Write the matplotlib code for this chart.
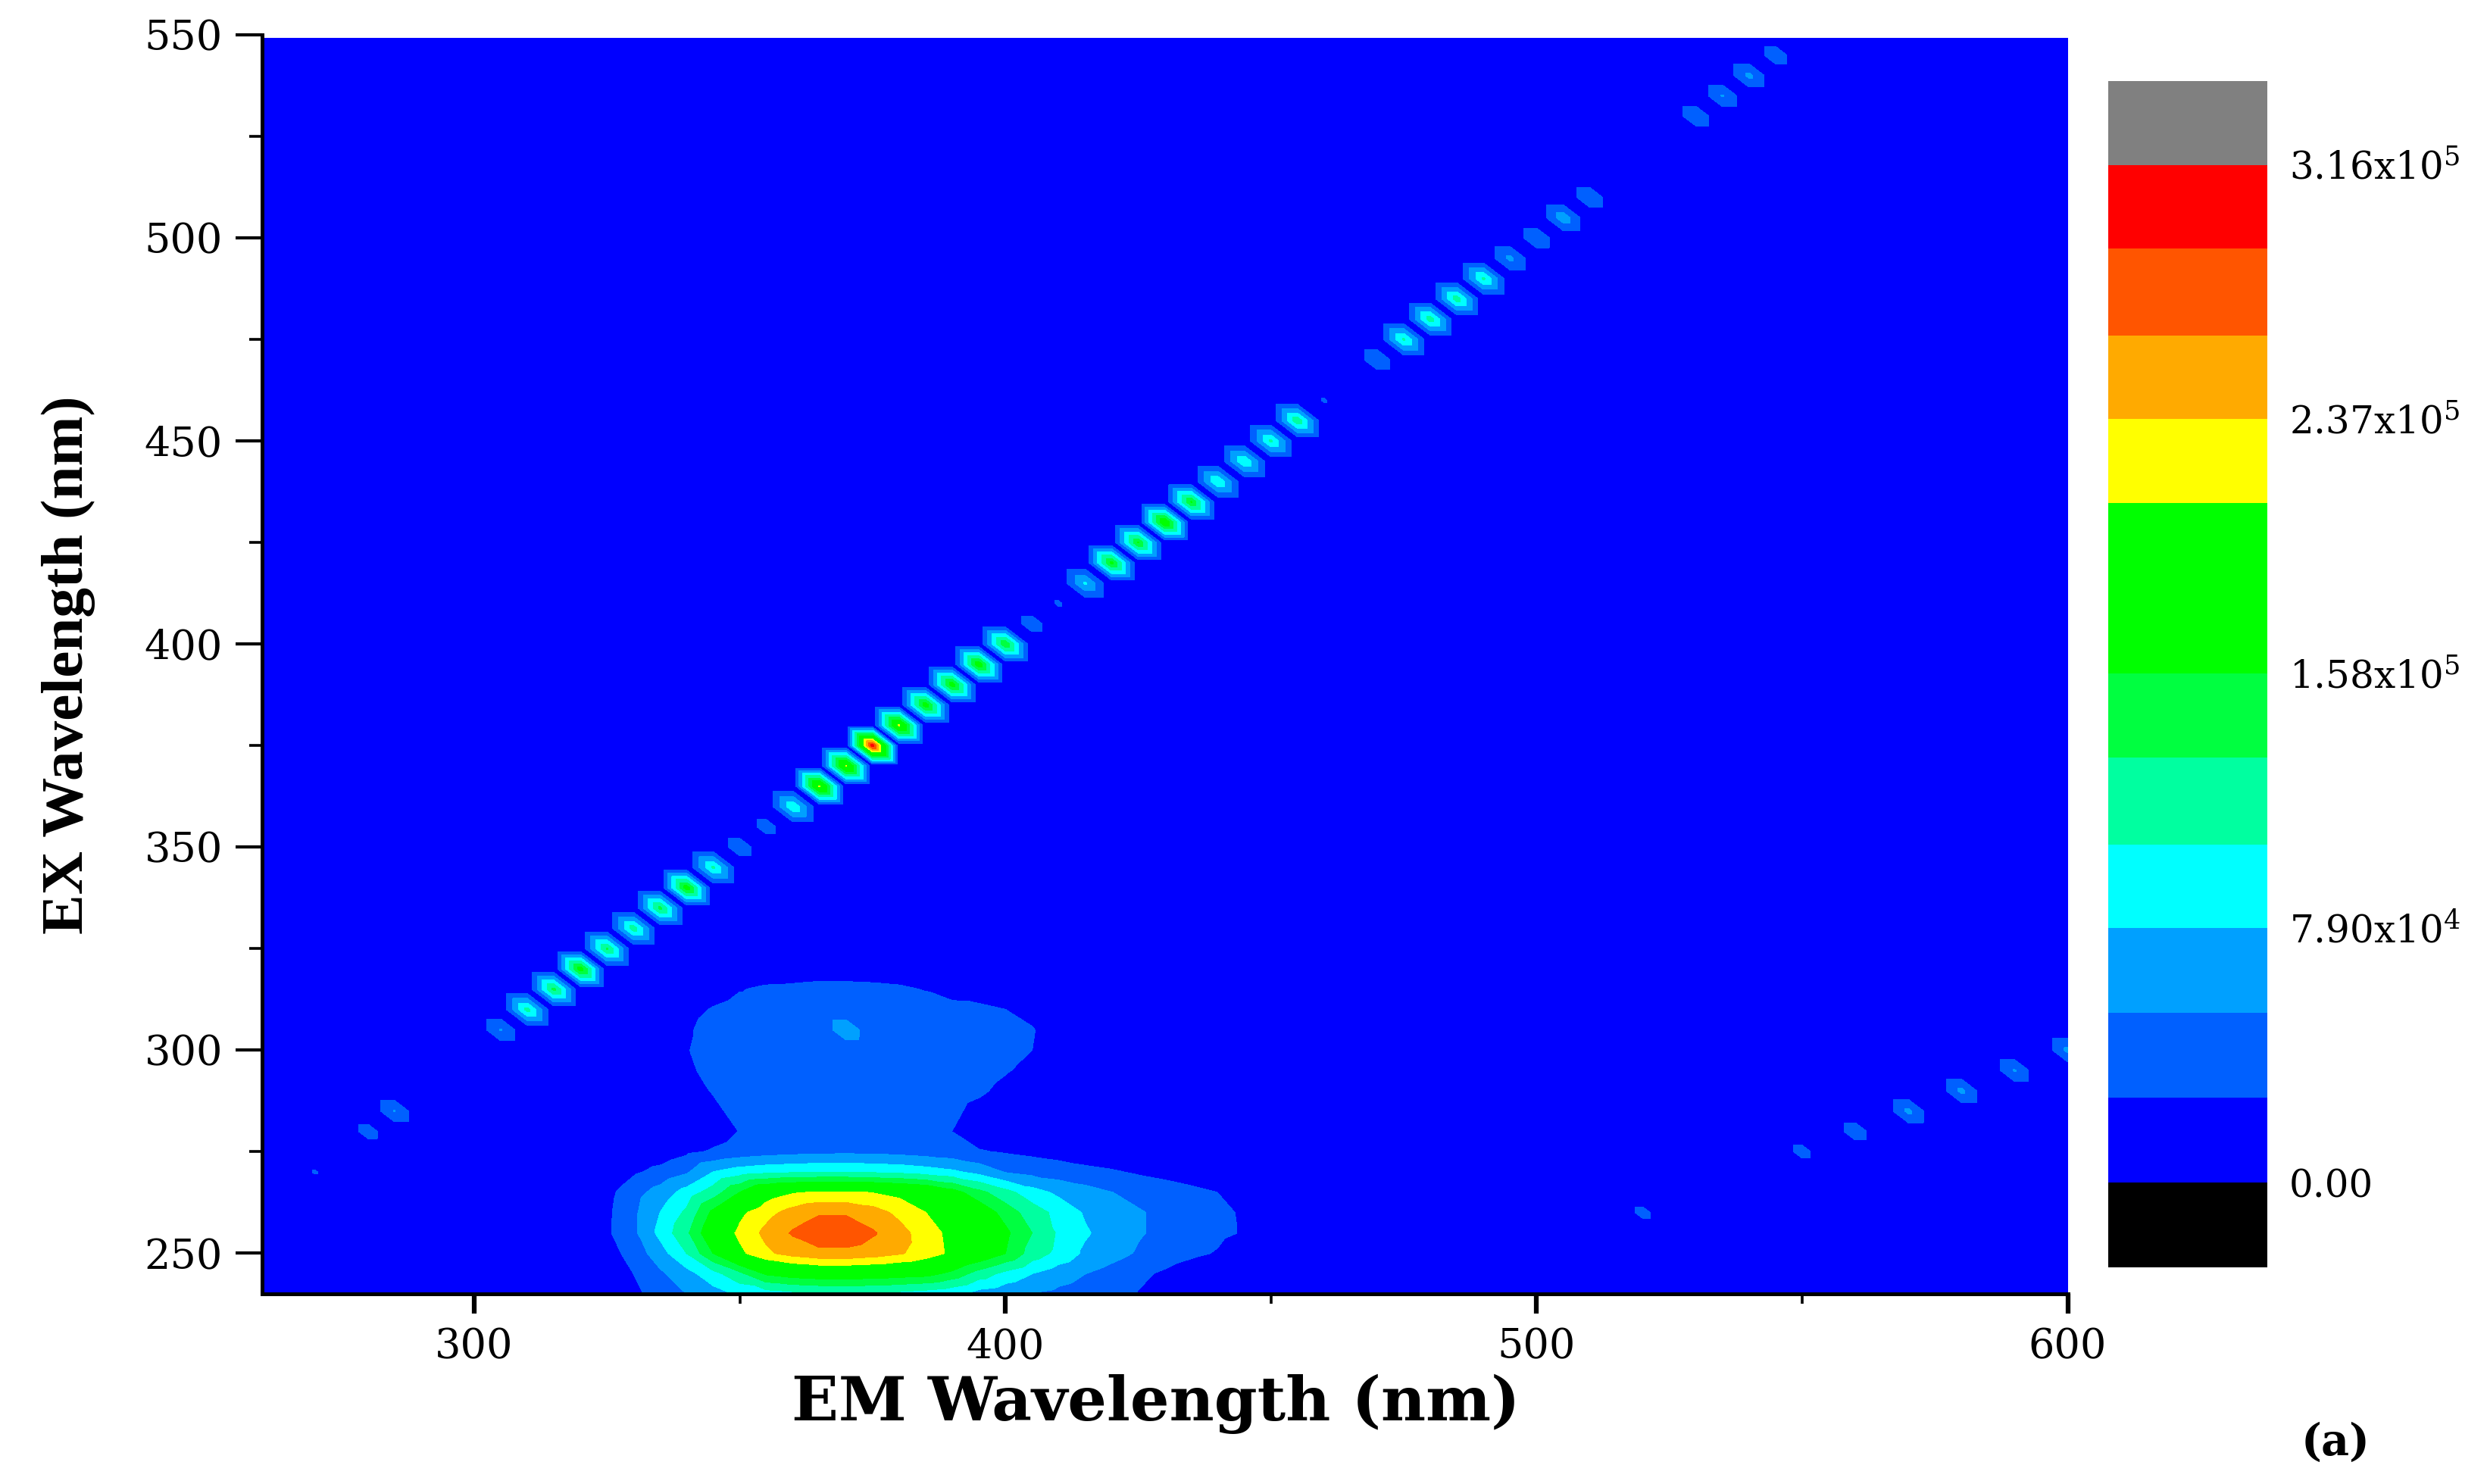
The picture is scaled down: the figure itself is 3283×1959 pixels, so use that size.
import matplotlib
matplotlib.use("Agg")
import matplotlib.pyplot as plt
import matplotlib.tri as mtri
import numpy as np

plt.rcParams['font.family'] = ['DejaVu Serif']
plt.rcParams['mathtext.fontset'] = 'dejavuserif'

# all intensities in units of 1e4
band_edges = [-2.63, 0, 2.63, 5.27, 7.90, 10.5, 13.2, 15.8, 18.4, 21.1, 23.7, 26.3, 29.0, 31.6, 34.2]
band_colors = ['#000000', '#0000ff', '#0060ff', '#00a0ff', '#00ffff', '#00ffa0', '#00ff40',
               '#00ff00', '#00ff00', '#ffff00', '#ffaa00', '#ff5500', '#ff0000', '#808080']
bar_ticks = [0, 7.90, 15.8, 23.7, 31.6]
bar_labels = ['0.00', '7.90x10$^{4}$', '1.58x10$^{5}$', '2.37x10$^{5}$', '3.16x10$^{5}$']

# measurement grid, 5 nm steps
em = np.arange(260, 605, 5)
ex = np.arange(240, 555, 5)

# scatter line, EX = EM
line1_nm = [270, 280, 285, 305, 310, 315, 320, 325, 330, 335, 340, 345, 350, 355, 360,
            365, 370, 375, 380, 385, 390, 395, 400, 405, 410, 415, 420, 425, 430, 435,
            440, 445, 450, 455, 460, 470, 475, 480, 485, 490, 495, 500, 505, 510,
            530, 535, 540, 545]
line1_val = [2.9, 4.0, 5.4, 5.5, 11.5, 14, 17.5, 13.5, 12, 14, 17.5, 11, 4.5, 4.0, 10.3,
             21.5, 21.3, 30.5, 21.5, 17.5, 17.5, 18, 15.5, 4.2, 3.0, 8.3, 16.5, 16, 19, 16,
             10.5, 10.5, 11, 12.5, 2.9, 5, 11, 12, 12, 11, 6, 5, 7, 5,
             5, 5.5, 6, 4.5]

# second order line, EX = EM / 2
line2_em = [520, 550, 560, 570, 580, 590, 600]
line2_ex = [260, 275, 280, 285, 290, 295, 300]
line2_val = [3.6, 3.8, 4.5, 6, 6, 5.5, 6]

# main peak, rows are EX 240..320, columns EM 320..450
blob_em = np.arange(320, 455, 5)
blob_ex = np.arange(240, 325, 5)
blob = [
    [0, 0, 1.9, 3.8, 5.27, 6.8, 8.3, 9, 9.6, 9.9, 10, 9.9, 9.6, 9, 8.2, 6.7, 6, 5.1, 4.6, 4, 3.3, 2.5, 1.5, .5, 0, 0, 0],
    [0, .6, 2.63, 4.8, 6.9, 9.5, 12.5, 16.2, 17.3, 17.8, 17.8, 17.6, 17.2, 16.8, 15, 12, 9.7, 7.9, 6.4, 5.3, 4.3, 3.2, 2.2, 1, 0, 0, 0],
    [0, 1.4, 3.7, 6.7, 10.5, 15.8, 20.4, 23.2, 24.7, 25.6, 25.6, 25, 24, 22.5, 20.5, 18.4, 15.8, 12, 9.7, 7.4, 6.2, 5, 4.1, 3.2, 2.4, 1, 0],
    [0, 2.2, 4.7, 8.6, 12.6, 18.4, 21.7, 24.4, 26.6, 28, 28, 26.6, 24.7, 22.3, 20.3, 18.8, 16.4, 13.2, 10.1, 8.2, 6.8, 5.5, 4.7, 4, 3.2, 2.4, 0],
    [0, 2.1, 4.7, 7.9, 11, 16.5, 20.4, 22.8, 24.7, 26, 26, 24.9, 23, 21.1, 19.9, 17.9, 14.7, 11.8, 9.7, 7.6, 6.5, 5.5, 4.7, 3.9, 3.2, 2.3, 0],
    [0, 1.8, 4.2, 6.3, 8.9, 11.8, 15.8, 19.5, 20.8, 21.3, 21.3, 21, 20.3, 19.3, 17, 14, 11.4, 9, 7.3, 6.3, 5.3, 4.5, 3.9, 3.3, 2.6, 1.2, 0],
    [0, 0, 2.2, 3.4, 4.9, 7.9, 9.2, 9.8, 10.1, 10.3, 10.3, 10.1, 9.8, 9.2, 8.4, 7, 5.1, 4.4, 3.9, 3.3, 2.9, 2.3, 1.8, 1.2, .6, 0, 0],
    [0, 0, .5, 1, 2.1, 2.9, 3.6, 4.1, 4.4, 4.6, 4.7, 4.6, 4.4, 4, 3.6, 2.8, 2.4, 2, 1.6, 1.2, .8, .4, 0, 0, 0, 0, 0],
    [0, 0, 0, 0, .4, 1.5, 2.7, 3.2, 3.4, 3.5, 3.5, 3.5, 3.4, 3.2, 2.6, 1.4, .8, .5, .2, 0, 0, 0, 0, 0, 0, 0, 0],
    [0, 0, 0, 0, .8, 2, 3.5, 3.6, 3.6, 3.6, 3.6, 3.6, 3.6, 3.5, 3.1, 1.9, 1, .5, 0, 0, 0, 0, 0, 0, 0, 0, 0],
    [0, 0, 0, .3, 1.5, 2.8, 3.6, 3.6, 3.6, 3.6, 3.6, 3.6, 3.6, 3.6, 3.6, 3, 2, 1, .3, 0, 0, 0, 0, 0, 0, 0, 0],
    [0, 0, 0, .6, 2.2, 3.3, 3.6, 3.6, 3.6, 3.6, 3.6, 3.6, 3.6, 3.6, 3.6, 3.6, 2.8, 2, .8, 0, 0, 0, 0, 0, 0, 0, 0],
    [0, 0, 0, .8, 2.5, 3.5, 3.6, 3.6, 3.6, 3.6, 3.6, 3.6, 3.6, 3.6, 3.6, 3.6, 3.4, 2.63, 1.2, .2, 0, 0, 0, 0, 0, 0, 0],
    [0, 0, 0, .6, 2.3, 3.5, 3.6, 3.6, 3.6, 3.7, 6.8, 3.7, 3.6, 3.6, 3.6, 3.6, 3.4, 2.8, 1.2, .2, 0, 0, 0, 0, 0, 0, 0],
    [0, 0, 0, .2, 1.9, 2.8, 3.4, 3.5, 3.6, 3.6, 3.6, 3.6, 3.6, 3.6, 3.5, 3.4, 2.63, 1.8, .6, 0, 0, 0, 0, 0, 0, 0, 0],
    [0, 0, 0, 0, .5, 1.6, 2.5, 3, 3.1, 3.3, 3.3, 3.2, 3, 2.5, 1.5, .8, .4, 0, 0, 0, 0, 0, 0, 0, 0, 0, 0],
    [0, 0, 0, 0, 0, .2, .8, 1.2, 1.4, 1.5, 1.5, 1.4, 1.2, .8, .3, 0, 0, 0, 0, 0, 0, 0, 0, 0, 0, 0, 0],
]

z = np.zeros((len(ex), len(em)))
for i, y in enumerate(blob_ex):
    for j, x in enumerate(blob_em):
        z[np.searchsorted(ex, y), np.searchsorted(em, x)] = blob[i][j]
for nm, v in zip(line1_nm, line1_val):
    z[np.searchsorted(ex, nm), np.searchsorted(em, nm)] = v
for e, x, v in zip(line2_em, line2_ex, line2_val):
    z[np.searchsorted(ex, x), np.searchsorted(em, e)] = v

# split every grid cell along the (1,-1) diagonal, that is what gives the hexagons
nx = len(em)
tris = []
for i in range(len(ex) - 1):
    for j in range(nx - 1):
        a = i * nx + j
        b = a + 1
        c = a + nx
        d = c + 1
        tris.append([a, b, c])
        tris.append([b, d, c])
xx, yy = np.meshgrid(em, ex)
grid = mtri.Triangulation(xx.ravel(), yy.ravel(), tris)

W, H = 3283, 1959
fig = plt.figure(figsize=(W / 100, H / 100), dpi=100)

# pixel box of the plot
L, R, T, B = 345.5, 2729.5, 46, 1708
ax = fig.add_axes([L / W, 1 - B / H, (R - L) / W, (B - T) / H])
ax.axhspan(240, 549.3, color='#0000ff', linewidth=0, zorder=0)
cs = ax.tricontourf(grid, z.ravel(), levels=band_edges[2:], colors=band_colors[2:-1], zorder=1)
cs.set_edgecolor('face')
cs.set_linewidth(0.4)
ax.set_xlim(260, 600)
ax.set_ylim(240, 550)

ax.spines['top'].set_visible(False)
ax.spines['right'].set_visible(False)
ax.spines['left'].set_linewidth(3.6)
ax.spines['bottom'].set_linewidth(3.6)
ax.set_xticks([300, 400, 500, 600])
ax.set_xticks([350, 450, 550], minor=True)
ax.set_yticks(range(250, 551, 50))
ax.set_yticks(range(275, 550, 50), minor=True)
ax.tick_params(axis='x', which='major', length=19, width=4.5, labelsize=39, pad=13)
ax.tick_params(axis='x', which='minor', length=9, width=2.6)
ax.tick_params(axis='y', which='major', length=25, width=3, labelsize=39, pad=12)
ax.tick_params(axis='y', which='minor', length=12, width=2.6)

fig.text(1526 / W, 1 - 1853 / H, 'EM Wavelength (nm)', fontsize=58.5, fontweight='bold', ha='center', va='center')
fig.text(90 / W, 1 - 878 / H, 'EX Wavelength (nm)', fontsize=57, fontweight='bold', rotation=90,
         ha='center', va='center', family='Liberation Serif')
fig.text(3083 / W, 1 - 1905 / H, '(a)', fontsize=41, fontweight='bold', ha='center', va='center')

# colour scale
cax = fig.add_axes([2783 / W, 1 - 1673 / H, 210 / W, 1566 / H])
for k, c in enumerate(band_colors):
    cax.bar(0, band_edges[k + 1] - band_edges[k], bottom=band_edges[k], width=1, color=c)
cax.set_xlim(-0.5, 0.5)
cax.set_ylim(band_edges[0], band_edges[-1])
cax.set_xticks([])
cax.yaxis.tick_right()
cax.set_yticks(bar_ticks, bar_labels)
cax.tick_params(axis='y', length=0, pad=21, labelsize=36)
for s in cax.spines.values():
    s.set_visible(False)

fig.savefig('out.png', dpi=100)
